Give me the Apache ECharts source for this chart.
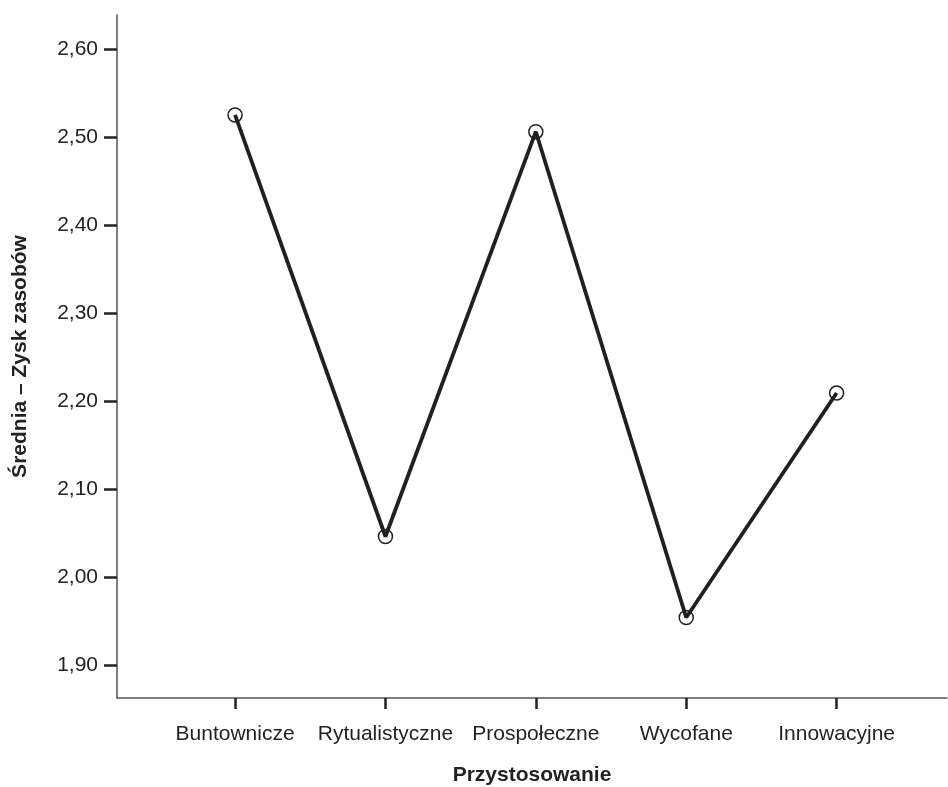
<!DOCTYPE html>
<html>
<head>
<meta charset="utf-8">
<script src="https://cdn.jsdelivr.net/npm/echarts@6/dist/echarts.min.js"></script>
<style>html,body{margin:0;padding:0;background:#fff}#c{width:948px;height:787px}</style>
</head>
<body>
<div id="c"></div>
<script>
var categories = ['Buntownicze', 'Rytualistyczne', 'Prospołeczne', 'Wycofane', 'Innowacyjne'];
var means = [2.525, 2.046, 2.506, 1.954, 2.209];
var yTicks = [1.9, 2.0, 2.1, 2.2, 2.3, 2.4, 2.5, 2.6];
var xName = 'Przystosowanie';
var yName = 'Średnia – Zysk zasobów';

var chart = echarts.init(document.getElementById('c'), null, {renderer: 'canvas'});
var data = means.map(function (v, i) { return [i, v]; });
var font = 'Liberation Sans, Arial, sans-serif';
chart.setOption({
  animation: false,
  grid: {left: 117, right: 1, top: 15, bottom: 89, containLabel: false, outerBoundsMode: 'none'},
  xAxis: {
    type: 'value', min: -0.785, max: 4.734,
    name: xName, nameLocation: 'middle', nameGap: 67,
    nameTextStyle: {fontFamily: font, fontSize: 21, fontWeight: 'bold', color: '#222'},
    axisLine: {show: true, onZero: false, lineStyle: {color: '#555', width: 1.5}},
    axisTick: {show: true, customValues: [0, 1, 2, 3, 4], length: 11, lineStyle: {color: '#222', width: 2.5}},
    axisLabel: {customValues: [0, 1, 2, 3, 4], margin: 26, fontFamily: font, fontSize: 21, color: '#222',
      formatter: function (v) { return categories[Math.round(v)] || ''; }},
    splitLine: {show: false}
  },
  yAxis: {
    type: 'value', min: 1.8625, max: 2.6386,
    name: yName, nameLocation: 'middle', nameGap: 86, nameRotate: 90,
    nameTextStyle: {fontFamily: font, fontSize: 21, fontWeight: 'bold', color: '#222'},
    axisLine: {show: true, onZero: false, lineStyle: {color: '#555', width: 1.5}},
    axisTick: {show: true, customValues: yTicks, length: 13, lineStyle: {color: '#222', width: 2.5}},
    axisLabel: {customValues: yTicks, margin: 19, fontFamily: font, fontSize: 21, color: '#222',
      formatter: function (v) { return v.toFixed(2).replace('.', ','); }},
    splitLine: {show: false}
  },
  series: [{
    type: 'line', data: data,
    lineStyle: {color: '#231f20', width: 3.8},
    symbol: 'circle', symbolSize: 14,
    itemStyle: {color: 'rgba(0,0,0,0)', borderColor: '#231f20', borderWidth: 1.5},
    z: 3
  }]
});
</script>
</body>
</html>
